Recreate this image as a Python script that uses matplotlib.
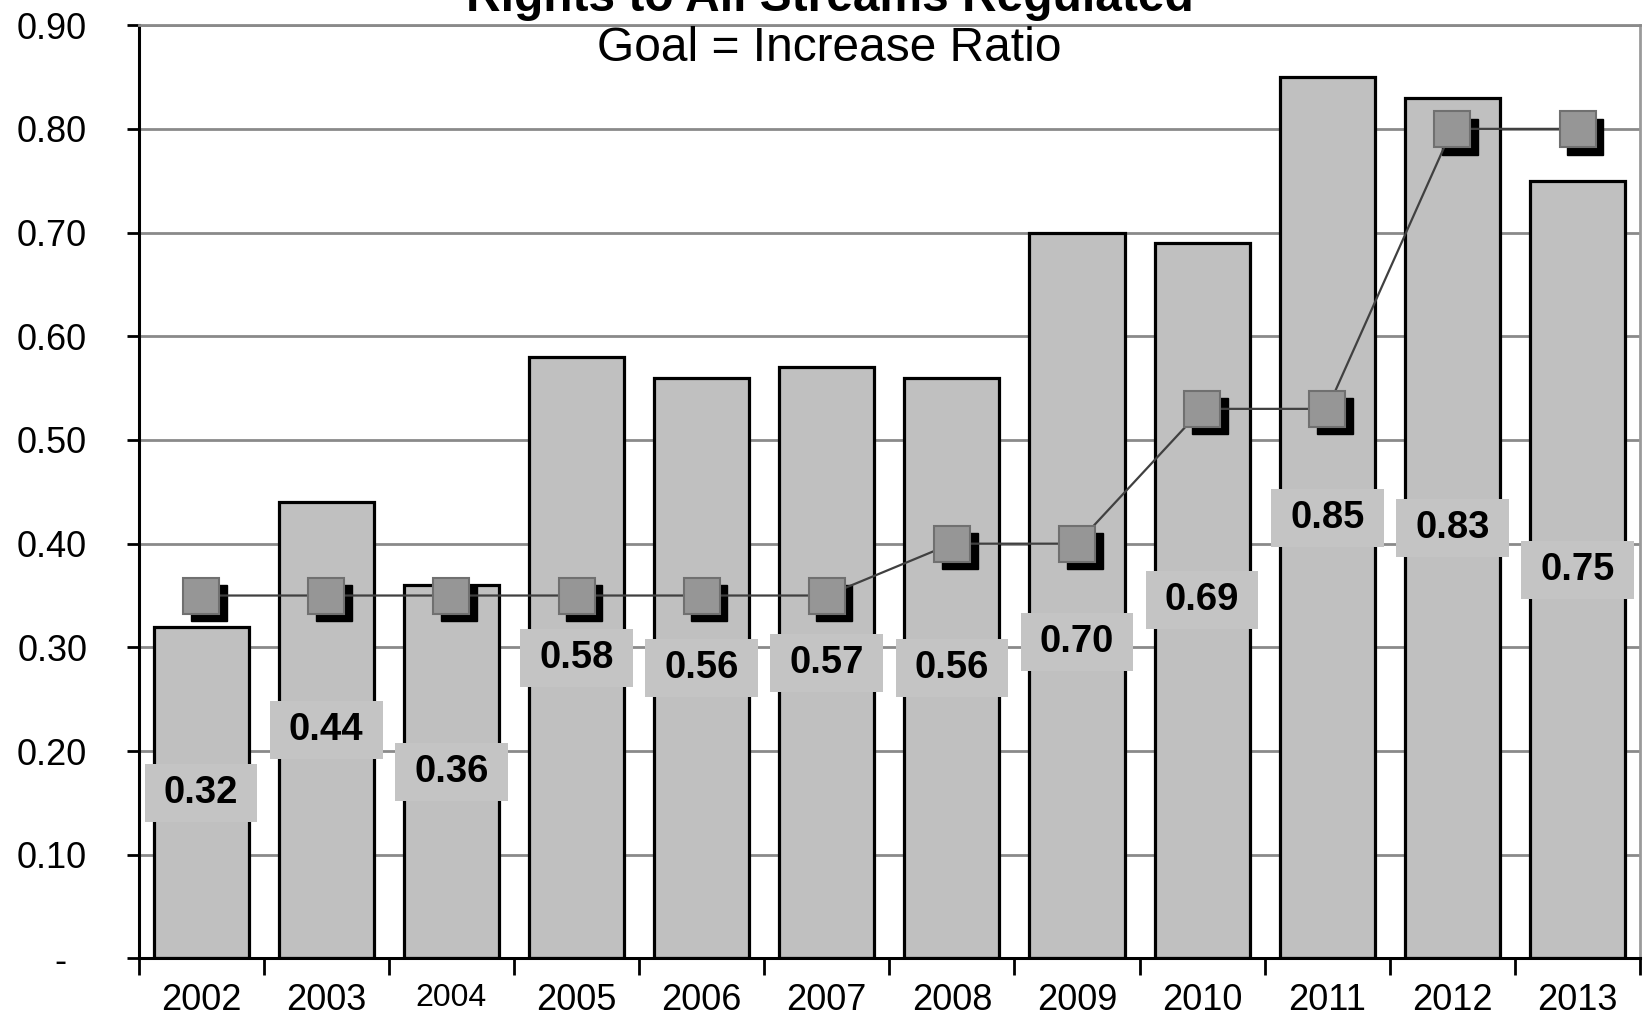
import matplotlib
matplotlib.use("Agg")
import matplotlib.pyplot as plt
from matplotlib.patches import Rectangle
from matplotlib.transforms import offset_copy

plt.rcParams['font.family'] = ['Liberation Sans', 'DejaVu Sans']

years = ['2002', '2003', '2004', '2005', '2006', '2007',
         '2008', '2009', '2010', '2011', '2012', '2013']
ratio = [0.32, 0.44, 0.36, 0.58, 0.56, 0.57, 0.56, 0.70, 0.69, 0.85, 0.83, 0.75]
goal = [0.35, 0.35, 0.35, 0.35, 0.35, 0.35, 0.40, 0.40, 0.53, 0.53, 0.80, 0.80]
yticks = [0.0, 0.1, 0.2, 0.3, 0.4, 0.5, 0.6, 0.7, 0.8, 0.9]
ytick_labels = ['-  ', '0.10', '0.20', '0.30', '0.40', '0.50', '0.60', '0.70', '0.80', '0.90']

# labels sit at half the bar height, except two that were moved by hand
label_y = [v / 2 for v in ratio]
label_y[7] = 0.305
label_y[8] = 0.346

fig = plt.figure(figsize=(16.46, 10.19), dpi=100)
ax = fig.add_axes([0.0842, 0.0594, 0.9122, 0.9159])

x = list(range(len(years)))

ax.set_axisbelow(True)
ax.yaxis.grid(True, color='#8a8a8a', linewidth=2.0)

ax.bar(x, ratio, width=0.76, color='#c0c0c0', edgecolor='black', linewidth=2.3, zorder=2)

# shadow of goal markers
shadow = offset_copy(ax.transData, fig=fig, x=5.5, y=-5.5, units='points')
ax.plot(x, goal, linestyle='none', marker='s', markersize=26, color='black',
        transform=shadow, zorder=3)
ax.plot(x, goal, color='#404040', linewidth=1.6, zorder=3)
ax.plot(x, goal, linestyle='none', marker='s', markersize=26,
        markerfacecolor='#969696', markeredgecolor='#707070', markeredgewidth=1.5, zorder=4)

for i, v in enumerate(ratio):
    ax.add_patch(Rectangle((i - 0.45, label_y[i] - 0.028), 0.9, 0.056,
                           facecolor='#c4c4c4', edgecolor='none', zorder=5))
    ax.text(i, label_y[i], '%.2f' % v, ha='center', va='center', fontsize=27.5,
            fontweight='bold', color='black', zorder=6)

ax.set_xlim(-0.5, len(years) - 0.5)
ax.set_ylim(0, 0.9)

ax.set_yticks(yticks)
ax.set_yticklabels(ytick_labels, fontsize=26)
ax.tick_params(axis='y', direction='out', length=9, width=2, pad=28)

ax.set_xticks([i - 0.5 for i in range(len(years) + 1)])
ax.set_xticklabels([])
ax.set_xticks(x, minor=True)
ax.set_xticklabels(years, minor=True, fontsize=26)
ax.tick_params(axis='x', which='major', direction='out', length=12, width=2)
ax.tick_params(axis='x', which='minor', length=0, pad=18)
for lab in ax.get_xticklabels(minor=True):
    if lab.get_text() == '2004':
        lab.set_fontsize(23)

ax.spines['left'].set_linewidth(2.2)
ax.spines['bottom'].set_linewidth(2.2)
ax.spines['top'].set_color('#8a8a8a')
ax.spines['top'].set_linewidth(2.0)
ax.spines['right'].set_color('#9a9a9a')
ax.spines['right'].set_linewidth(2.0)

fig.text(0.504, 0.989, 'Rights to All Streams Regulated', ha='center', va='baseline',
         fontsize=34.5, fontweight='bold')
fig.text(0.504, 0.940, 'Goal = Increase Ratio', ha='center', va='baseline', fontsize=34.5)

fig.savefig('out.png', dpi=100)
